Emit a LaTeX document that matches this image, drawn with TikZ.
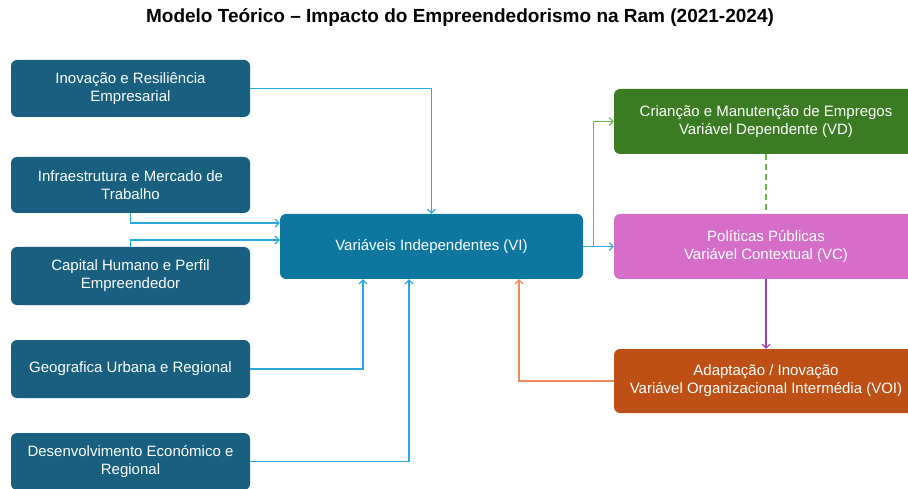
\documentclass[tikz,border=0pt]{standalone}
\usepackage{fontspec}
\setmainfont{Liberation Sans}
\usetikzlibrary{arrows.meta}

\definecolor{leftblue}{HTML}{185F80}
\definecolor{viblue}{HTML}{0D77A0}
\definecolor{vdgreen}{HTML}{3A7B24}
\definecolor{vcpink}{HTML}{D56DC9}
\definecolor{voiorange}{HTML}{BF5015}
\definecolor{lineblue}{HTML}{29A8E0}
\definecolor{linegreen}{HTML}{6AB84A}
\definecolor{lineorange}{HTML}{F08A5A}
\definecolor{linepurple}{HTML}{A040B8}

\begin{document}
\begin{tikzpicture}[x=1pt,y=-1pt,
        box/.style={rectangle,rounded corners=6pt,draw=none,text=white,align=center,
            font=\fontsize{15}{18}\selectfont,inner sep=0pt},
        leftbox/.style={box,fill=leftblue,minimum width=239pt,minimum height=57pt},
        rightbox/.style={box,minimum width=304pt,minimum height=65pt},
        con/.style={line width=1.1pt,-{Straight Barb[length=4pt,width=8pt]}}]
        \useasboundingbox (0,0) rectangle (908,489);
        \clip (0,0) rectangle (908,489);
        \fill[white] (0,0) rectangle (908,489);

        \node[font=\fontsize{19}{21}\selectfont\bfseries] (title) at (460,18) {Modelo Teórico -- Impacto do Empreendedorismo na Ram (2021-2024)};

        \node[leftbox] (inov) at (130.5,88.5) {Inovação e Resiliência\\Empresarial};
        \node[leftbox,minimum height=56pt] (infra) at (130.5,185) {Infraestrutura e Mercado de\\Trabalho};
        \node[leftbox,minimum height=58pt] (capital) at (130.5,276) {Capital Humano e Perfil\\Empreendedor};
        \node[leftbox,minimum height=58pt] (geo) at (130.5,369) {Geografica Urbana e Regional};
        \node[leftbox] (desenv) at (130.5,461.5) {Desenvolvimento Económico e\\Regional};

        \node[box,fill=viblue,minimum width=303pt,minimum height=65pt] (vi) at (431.5,246.5) {Variáveis Independentes (VI)};

        \node[rightbox,fill=vdgreen] (vd) at (766,121.5) {Crianção e Manutenção de Empregos\\Variável Dependente (VD)};
        \node[rightbox,fill=vcpink] (vc) at (766,246.5) {Políticas Públicas\\Variável Contextual (VC)};
        \node[rightbox,fill=voiorange,minimum height=64pt] (voi) at (766,381) {Adaptação / Inovação\\Variável Organizacional Intermédia (VOI)};

        \draw[con,lineblue] (inov.east) -| (vi.north);
        \draw[con,lineblue] (infra.south) |- ([yshift=23.5pt]vi.west);
        \draw[con,lineblue] (capital.north) |- ([yshift=6.5pt]vi.west);
        \draw[con,lineblue] (geo.east) -| ([xshift=-68.5pt]vi.south);
        \draw[con,lineblue] (desenv.east) -| ([xshift=-22.5pt]vi.south);

        \draw[con,lineblue] (vi.east) -- (vc.west);
        \draw[con,linegreen] ([xshift=10pt]vi.east) |- (vd.west);
        \draw[linegreen,line width=1.1pt,dash pattern=on 6pt off 4pt] (vd.south) -- (vc.north);
        \draw[con,linepurple] (vc.south) -- (voi.north);
        \draw[con,lineorange] (voi.west) -| ([xshift=87.5pt]vi.south);
    \end{tikzpicture}
\end{document}
